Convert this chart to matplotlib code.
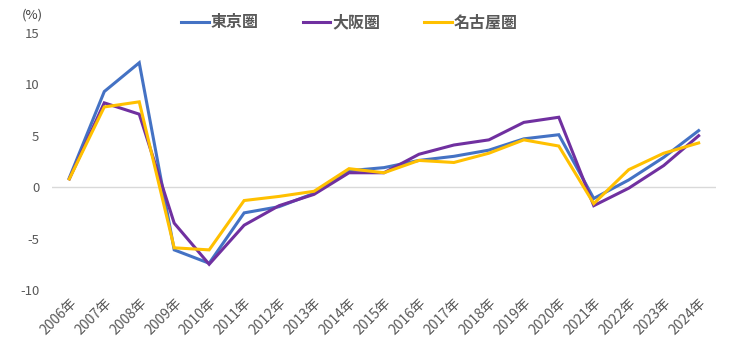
import matplotlib
matplotlib.use("Agg")
import matplotlib.pyplot as plt

plt.rcParams['font.family'] = ['Noto Sans CJK JP', 'DejaVu Sans']

years = ["2006年", "2007年", "2008年", "2009年", "2010年", "2011年", "2012年", "2013年",
         "2014年", "2015年", "2016年", "2017年", "2018年", "2019年", "2020年", "2021年",
         "2022年", "2023年", "2024年"]
tokyo = [0.9, 9.3, 12.1, -6.1, -7.4, -2.5, -1.9, -0.6, 1.6, 1.9, 2.6, 3.0, 3.6, 4.7, 5.1, -1.1, 0.7, 2.9, 5.5]
osaka = [0.8, 8.2, 7.1, -3.5, -7.5, -3.7, -1.8, -0.7, 1.4, 1.4, 3.2, 4.1, 4.6, 6.3, 6.8, -1.8, -0.1, 2.1, 5.0]
nagoya = [0.8, 7.8, 8.3, -5.9, -6.1, -1.3, -0.9, -0.4, 1.8, 1.4, 2.6, 2.4, 3.3, 4.6, 4.0, -1.6, 1.7, 3.3, 4.3]
series_names = ["東京圏", "大阪圏", "名古屋圏"]
colors = ["#4472C4", "#7030A0", "#FFC000"]
yticks = [-10, -5, 0, 5, 10, 15]

fig = plt.figure(figsize=(7.3, 3.58), dpi=100)
ax = fig.add_axes([0.071, 0.19, 0.910, 0.718])
x = list(range(len(years)))
for vals, name, c in zip([tokyo, osaka, nagoya], series_names, colors):
    ax.plot(x, vals, color=c, lw=2.2, label=name, solid_joinstyle='miter')

ax.axhline(0, color="#d9d9d9", lw=1.0, zorder=0)
ax.set_xlim(-0.5, len(years) - 0.5)
ax.set_ylim(-10, 15)
ax.set_yticks(yticks)
ax.set_yticklabels([str(v) for v in yticks], fontsize=9.5, color="#595959")
ax.set_xticks(x)
ax.set_xticklabels(years, rotation=45, ha="right", rotation_mode="anchor",
                   fontsize=10, color="#595959")
ax.tick_params(axis='both', length=0)
ax.tick_params(axis='y', pad=9)
ax.tick_params(axis='x', pad=4)
for s in ax.spines.values():
    s.set_visible(False)

fig.text(0.03, 0.975, "(%)", fontsize=9.5, color="#404040", va="top")
leg = fig.legend(loc="upper center", bbox_to_anchor=(0.479, 1.0), ncol=3, frameon=False,
                 fontsize=11.5, handlelength=1.7, columnspacing=2.75, handletextpad=0.15)
for t in leg.get_texts():
    t.set_color("#595959")
    t.set_fontweight("bold")

fig.savefig("out.png", dpi=100, facecolor="white")
